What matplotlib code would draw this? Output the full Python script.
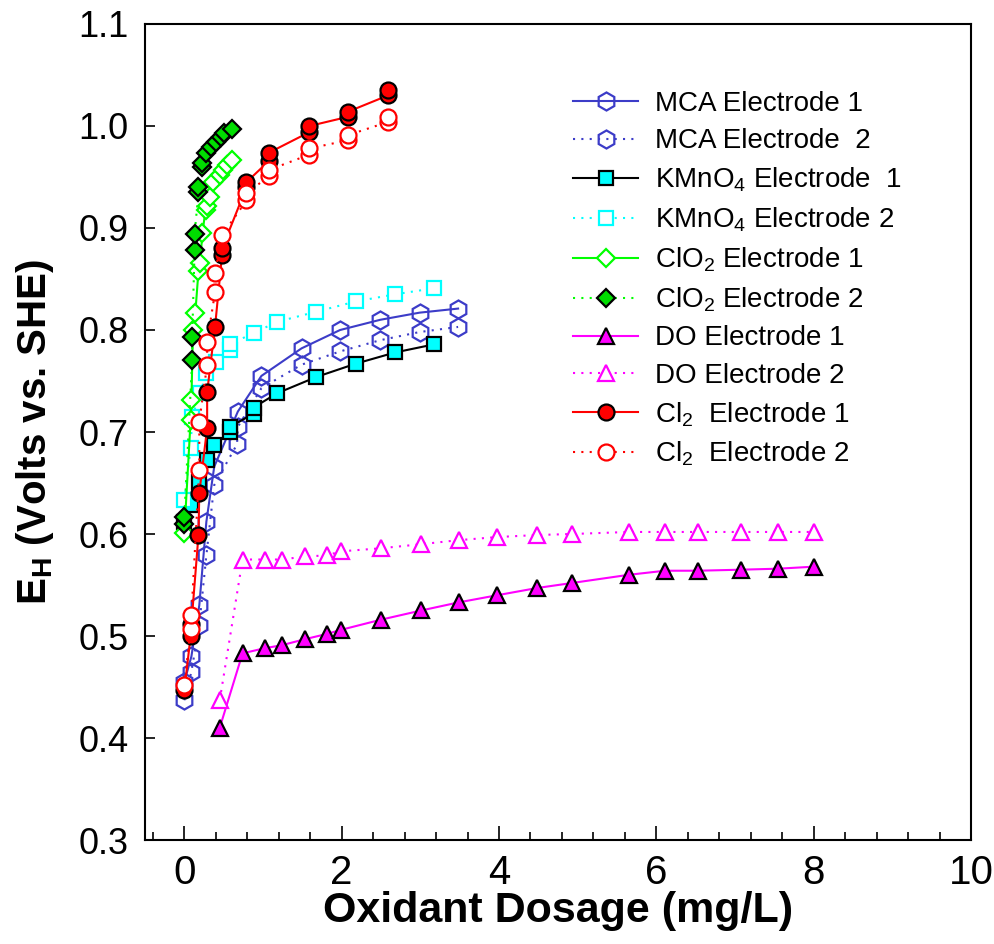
import matplotlib
matplotlib.use("Agg")
import matplotlib.pyplot as plt
import matplotlib.font_manager as fm
from matplotlib.ticker import MultipleLocator

# fonts
names = {f.name for f in fm.fontManager.ttflist}
narrow = 'Liberation Sans Narrow' if 'Liberation Sans Narrow' in names else 'Liberation Sans'
plt.rcParams['font.family'] = ['Liberation Sans', 'DejaVu Sans']
plt.rcParams['mathtext.fontset'] = 'custom'
plt.rcParams['mathtext.rm'] = 'Liberation Sans'
plt.rcParams['mathtext.it'] = 'Liberation Sans:italic'
plt.rcParams['mathtext.bf'] = 'Liberation Sans:bold'
plt.rcParams['mathtext.default'] = 'regular'

# data (x: mg/L, y: volts vs SHE)
mca1_x = [0, 0.09, 0.19, 0.28, 0.38, 0.68, 0.98, 1.49, 1.98, 2.49, 2.99, 3.48]
mca1_y = [0.455, 0.48, 0.53, 0.612, 0.666, 0.72, 0.755, 0.782, 0.80, 0.81, 0.817, 0.821]
mca2_x = [0, 0.09, 0.19, 0.28, 0.38, 0.67, 0.68, 0.98, 1.49, 1.98, 2.49, 2.99, 3.48]
mca2_y = [0.437, 0.465, 0.511, 0.579, 0.648, 0.688, 0.705, 0.743, 0.766, 0.779, 0.79, 0.798, 0.803]

kmn1_x = [0, 0.08, 0.19, 0.29, 0.38, 0.58, 0.58, 0.88, 0.88, 1.18, 1.68, 2.18, 2.68, 3.18]
kmn1_y = [0.612, 0.628, 0.651, 0.673, 0.687, 0.700, 0.705, 0.718, 0.724, 0.738, 0.754, 0.767, 0.778, 0.786]
kmn2_x = [0, 0.08, 0.1, 0.2, 0.28, 0.4, 0.58, 0.58, 0.88, 1.18, 1.68, 2.18, 2.68, 3.18]
kmn2_y = [0.633, 0.684, 0.715, 0.738, 0.758, 0.769, 0.780, 0.786, 0.797, 0.808, 0.818, 0.828, 0.835, 0.841]

clo1_x = [0, 0.08, 0.09, 0.11, 0.14, 0.18, 0.2, 0.23, 0.27, 0.29, 0.33, 0.37, 0.45, 0.49, 0.54, 0.6]
clo1_y = [0.601, 0.712, 0.731, 0.80, 0.817, 0.858, 0.866, 0.895, 0.918, 0.922, 0.93, 0.945, 0.952, 0.957, 0.962, 0.967]
clo2_x = [0, 0.0, 0.1, 0.1, 0.13, 0.13, 0.18, 0.18, 0.23, 0.23, 0.28, 0.34, 0.4, 0.46, 0.51, 0.6]
clo2_y = [0.61, 0.617, 0.771, 0.793, 0.878, 0.894, 0.935, 0.940, 0.96, 0.964, 0.974, 0.979, 0.984, 0.989, 0.993, 0.997]

do_x = [0.45, 0.74, 1.02, 1.24, 1.54, 1.81, 1.99, 2.5, 3.01, 3.49, 3.98, 4.48, 4.93, 5.65, 6.11, 6.53, 7.07, 7.55, 8.01]
do1_y = [0.41, 0.483, 0.488, 0.491, 0.497, 0.502, 0.506, 0.516, 0.525, 0.533, 0.540, 0.547, 0.552, 0.560, 0.564, 0.564, 0.565, 0.566, 0.568]
do2_y = [0.437, 0.575, 0.575, 0.575, 0.578, 0.579, 0.583, 0.586, 0.590, 0.594, 0.597, 0.599, 0.600, 0.602, 0.602, 0.602, 0.602, 0.602, 0.602]

cl1_x = [0, 0.08, 0.09, 0.18, 0.19, 0.29, 0.29, 0.39, 0.48, 0.48, 0.79, 0.79, 1.08, 1.08, 1.59, 1.59, 2.08, 2.08, 2.59, 2.59]
cl1_y = [0.447, 0.50, 0.512, 0.599, 0.640, 0.704, 0.739, 0.803, 0.874, 0.880, 0.940, 0.945, 0.966, 0.974, 0.994, 1.0, 1.009, 1.014, 1.030, 1.035]
cl2_x = [0, 0.08, 0.09, 0.19, 0.19, 0.29, 0.29, 0.39, 0.39, 0.48, 0.79, 0.79, 1.08, 1.08, 1.59, 1.59, 2.08, 2.08, 2.59, 2.59]
cl2_y = [0.452, 0.507, 0.521, 0.663, 0.710, 0.766, 0.788, 0.837, 0.856, 0.893, 0.927, 0.934, 0.951, 0.957, 0.972, 0.978, 0.986, 0.991, 1.004, 1.009]

labels = ['MCA Electrode 1', 'MCA Electrode  2', 'KMnO$_4$ Electrode  1', 'KMnO$_4$ Electrode 2',
          'ClO$_2$ Electrode 1', 'ClO$_2$ Electrode 2', 'DO Electrode 1', 'DO Electrode 2',
          'Cl$_2$  Electrode 1', 'Cl$_2$  Electrode 2']

blue = '#3c3cc8'
dot = (0, (1, 3))
ms = 11.5
mew = 1.6

fig = plt.figure(figsize=(9.95, 9.44), dpi=100)
ax = fig.add_axes([145/995, 1-840/944, 826/995, 816/944])

ax.plot(mca1_x, mca1_y, '-', color=blue, lw=1.5, marker='h', ms=ms+1.5, mfc='none', mec=blue, mew=mew, label=labels[0])
ax.plot(mca2_x, mca2_y, color=blue, ls=dot, lw=1.5, marker='h', ms=ms+1.5, mfc='none', mec=blue, mew=mew, label=labels[1])
ax.plot(kmn1_x, kmn1_y, '-', color='black', lw=1.5, marker='s', ms=ms-1, mfc='#00ffff', mec='black', mew=mew, label=labels[2])
ax.plot(kmn2_x, kmn2_y, color='#00ffff', ls=dot, lw=1.5, marker='s', ms=ms-1, mfc='white', mec='#00ffff', mew=mew, label=labels[3])
ax.plot(clo1_x, clo1_y, '-', color='#00ff00', lw=1.5, marker='D', ms=ms-2, mfc='white', mec='#00ff00', mew=mew, label=labels[4])
ax.plot(clo2_x, clo2_y, color='#00ff00', ls=dot, lw=1.5, marker='D', ms=ms-2, mfc='#00dd00', mec='black', mew=mew, label=labels[5])
ax.plot(do_x, do1_y, '-', color='#ff00ff', lw=1.5, marker='^', ms=ms, mfc='#ff00ff', mec='black', mew=mew, label=labels[6])
ax.plot(do_x, do2_y, color='#ff00ff', ls=dot, lw=1.5, marker='^', ms=ms, mfc='white', mec='#ff00ff', mew=mew, label=labels[7])
ax.plot(cl1_x, cl1_y, '-', color='red', lw=1.5, marker='o', ms=ms, mfc='red', mec='black', mew=mew, label=labels[8])
ax.plot(cl2_x, cl2_y, color='red', ls=dot, lw=1.5, marker='o', ms=ms, mfc='white', mec='red', mew=mew, label=labels[9])

ax.set_xlim(-0.5, 10)
ax.set_ylim(0.3, 1.1)
ax.set_xticks([0, 2, 4, 6, 8, 10])
ax.xaxis.set_minor_locator(MultipleLocator(0.4))
ax.set_yticks([0.3, 0.4, 0.5, 0.6, 0.7, 0.8, 0.9, 1.0, 1.1])
ax.set_yticklabels(['0.3', '0.4', '0.5', '0.6', '0.7', '0.8', '0.9', '1.0', '1.1'])
ax.tick_params(axis='x', which='major', direction='in', length=10, width=1.2, pad=10,
               labelsize=34 if narrow != 'Liberation Sans' else 29)
ax.tick_params(axis='x', which='minor', direction='in', length=6, width=1.2)
ax.tick_params(axis='y', which='major', direction='in', length=7, width=1.2, pad=12, labelsize=26)
for lab in ax.get_xticklabels():
    lab.set_family(narrow)
for sp in ax.spines.values():
    sp.set_linewidth(1.5)

ax.set_xlabel('Oxidant Dosage (mg/L)', fontsize=37 if narrow != 'Liberation Sans' else 31,
              fontweight='bold', family=narrow)
ax.xaxis.set_label_coords(0.5, -0.062)
ax.set_ylabel(r'$\mathbf{E_H}$ (Volts vs. SHE)', fontsize=29, fontweight='bold')
ax.yaxis.set_label_coords(-0.108, 0.5)

ax.legend(loc='upper left', bbox_to_anchor=(0.518, 0.918), bbox_transform=ax.transAxes,
          frameon=False, fontsize=20, handlelength=2.35, handletextpad=0.6,
          labelspacing=0.41, borderpad=0, borderaxespad=0)

fig.savefig('out.png', dpi=100)
